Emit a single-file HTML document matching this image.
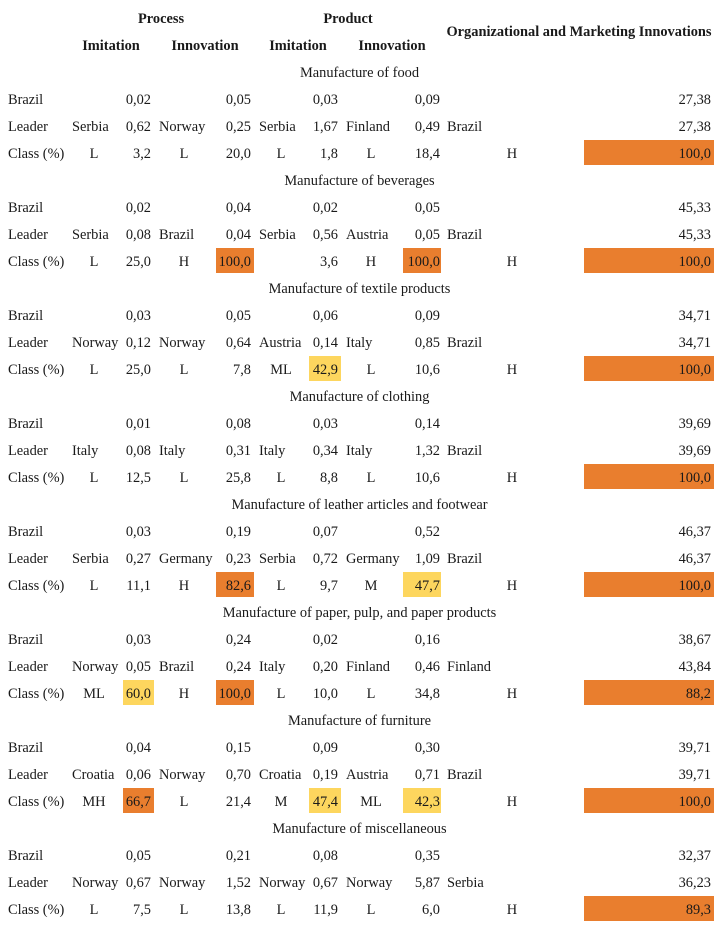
<!DOCTYPE html>
<html><head><meta charset="utf-8">
<style>
html,body{margin:0;padding:0;background:#fff;}
#t{position:relative;width:719px;height:926px;font-family:"Liberation Serif",serif;font-size:14.4px;color:#1a1a1a;}
#t div{position:absolute;white-space:nowrap;line-height:16px;}
.b{font-weight:bold;}
</style></head>
<body>
<div id="t">
<div class="b" style="left:111px;width:100px;text-align:center;top:11px">Process</div>
<div class="b" style="left:298px;width:100px;text-align:center;top:11px">Product</div>
<div class="b" style="left:429px;width:300px;text-align:center;top:24px">Organizational and Marketing Innovations</div>
<div class="b" style="left:61px;width:100px;text-align:center;top:38px">Imitation</div>
<div class="b" style="left:155px;width:100px;text-align:center;top:38px">Innovation</div>
<div class="b" style="left:248px;width:100px;text-align:center;top:38px">Imitation</div>
<div class="b" style="left:342px;width:100px;text-align:center;top:38px">Innovation</div>
</div>
<script>
const sections=["Manufacture of food","Manufacture of beverages","Manufacture of textile products","Manufacture of clothing","Manufacture of leather articles and footwear","Manufacture of paper, pulp, and paper products","Manufacture of furniture","Manufacture of miscellaneous"];
const brazilVals=[["0,02","0,05","0,03","0,09","27,38"],["0,02","0,04","0,02","0,05","45,33"],["0,03","0,05","0,06","0,09","34,71"],["0,01","0,08","0,03","0,14","39,69"],["0,03","0,19","0,07","0,52","46,37"],["0,03","0,24","0,02","0,16","38,67"],["0,04","0,15","0,09","0,30","39,71"],["0,05","0,21","0,08","0,35","32,37"]];
const leaderNames=[["Serbia","Norway","Serbia","Finland","Brazil"],["Serbia","Brazil","Serbia","Austria","Brazil"],["Norway","Norway","Austria","Italy","Brazil"],["Italy","Italy","Italy","Italy","Brazil"],["Serbia","Germany","Serbia","Germany","Brazil"],["Norway","Brazil","Italy","Finland","Finland"],["Croatia","Norway","Croatia","Austria","Brazil"],["Norway","Norway","Norway","Norway","Serbia"]];
const leaderVals=[["0,62","0,25","1,67","0,49","27,38"],["0,08","0,04","0,56","0,05","45,33"],["0,12","0,64","0,14","0,85","34,71"],["0,08","0,31","0,34","1,32","39,69"],["0,27","0,23","0,72","1,09","46,37"],["0,05","0,24","0,20","0,46","43,84"],["0,06","0,70","0,19","0,71","39,71"],["0,67","1,52","0,67","5,87","36,23"]];
const classLetters=[["L","L","L","L","H"],["L","H","","H","H"],["L","L","ML","L","H"],["L","L","L","L","H"],["L","H","L","M","H"],["ML","H","L","L","H"],["MH","L","M","ML","H"],["L","L","L","L","H"]];
const classVals=[["3,2","20,0","1,8","18,4","100,0"],["25,0","100,0","3,6","100,0","100,0"],["25,0","7,8","42,9","10,6","100,0"],["12,5","25,8","8,8","10,6","100,0"],["11,1","82,6","9,7","47,7","100,0"],["60,0","100,0","10,0","34,8","88,2"],["66,7","21,4","47,4","42,3","100,0"],["7,5","13,8","11,9","6,0","89,3"]];
const classHi=[["","","","","o"],["","o","","o","o"],["","","y","","o"],["","","","","o"],["","o","","y","o"],["y","o","","","o"],["o","","y","y","o"],["","","","","o"]];

const T=document.getElementById('t');
const nameLeft=[72,159,259,346,447];
const letterCenter=[94,184,281,371,512];
const valRight=[151,251,338,440,711];
const hlBox=[[123,154],[216,254],[309,341],[403,441],[584,714]];
const colors={o:"#E97E2E",y:"#FDD65E"};
function add(txt,style,name){const d=document.createElement('div');d.textContent=txt;d.style.cssText=style;


T.appendChild(d);return d;}
sections.forEach((s,i)=>{
  const y0=72+108*i;
  add(s,`left:0;width:719px;text-align:center;top:${y0-7}px`,'section-title');
  const rows=[["Brazil",y0+27],["Leader",y0+54],["Class (%)",y0+81]];
  rows.forEach(r=>add(r[0],`left:8px;top:${r[1]-7}px`,'row-label'));
  for(let c=0;c<5;c++){
    add(brazilVals[i][c],`right:${719-valRight[c]}px;top:${y0+27-7}px`,'brazil-value');
    add(leaderNames[i][c],`left:${nameLeft[c]}px;top:${y0+54-7}px`,'leader-country');
    add(leaderVals[i][c],`right:${719-valRight[c]}px;top:${y0+54-7}px`,'leader-value');
    const yc=y0+81;
    if(classHi[i][c]){
      add('',`left:${hlBox[c][0]}px;width:${hlBox[c][1]-hlBox[c][0]}px;top:${yc-13}px;height:25px;background:${colors[classHi[i][c]]}`,'class-highlight');
    }
    add(classLetters[i][c],`left:${letterCenter[c]-20}px;width:40px;text-align:center;top:${yc-7}px`,'class-level');
    add(classVals[i][c],`right:${719-valRight[c]}px;top:${yc-7}px`,'class-value');
  }
});
</script>
</body></html>
